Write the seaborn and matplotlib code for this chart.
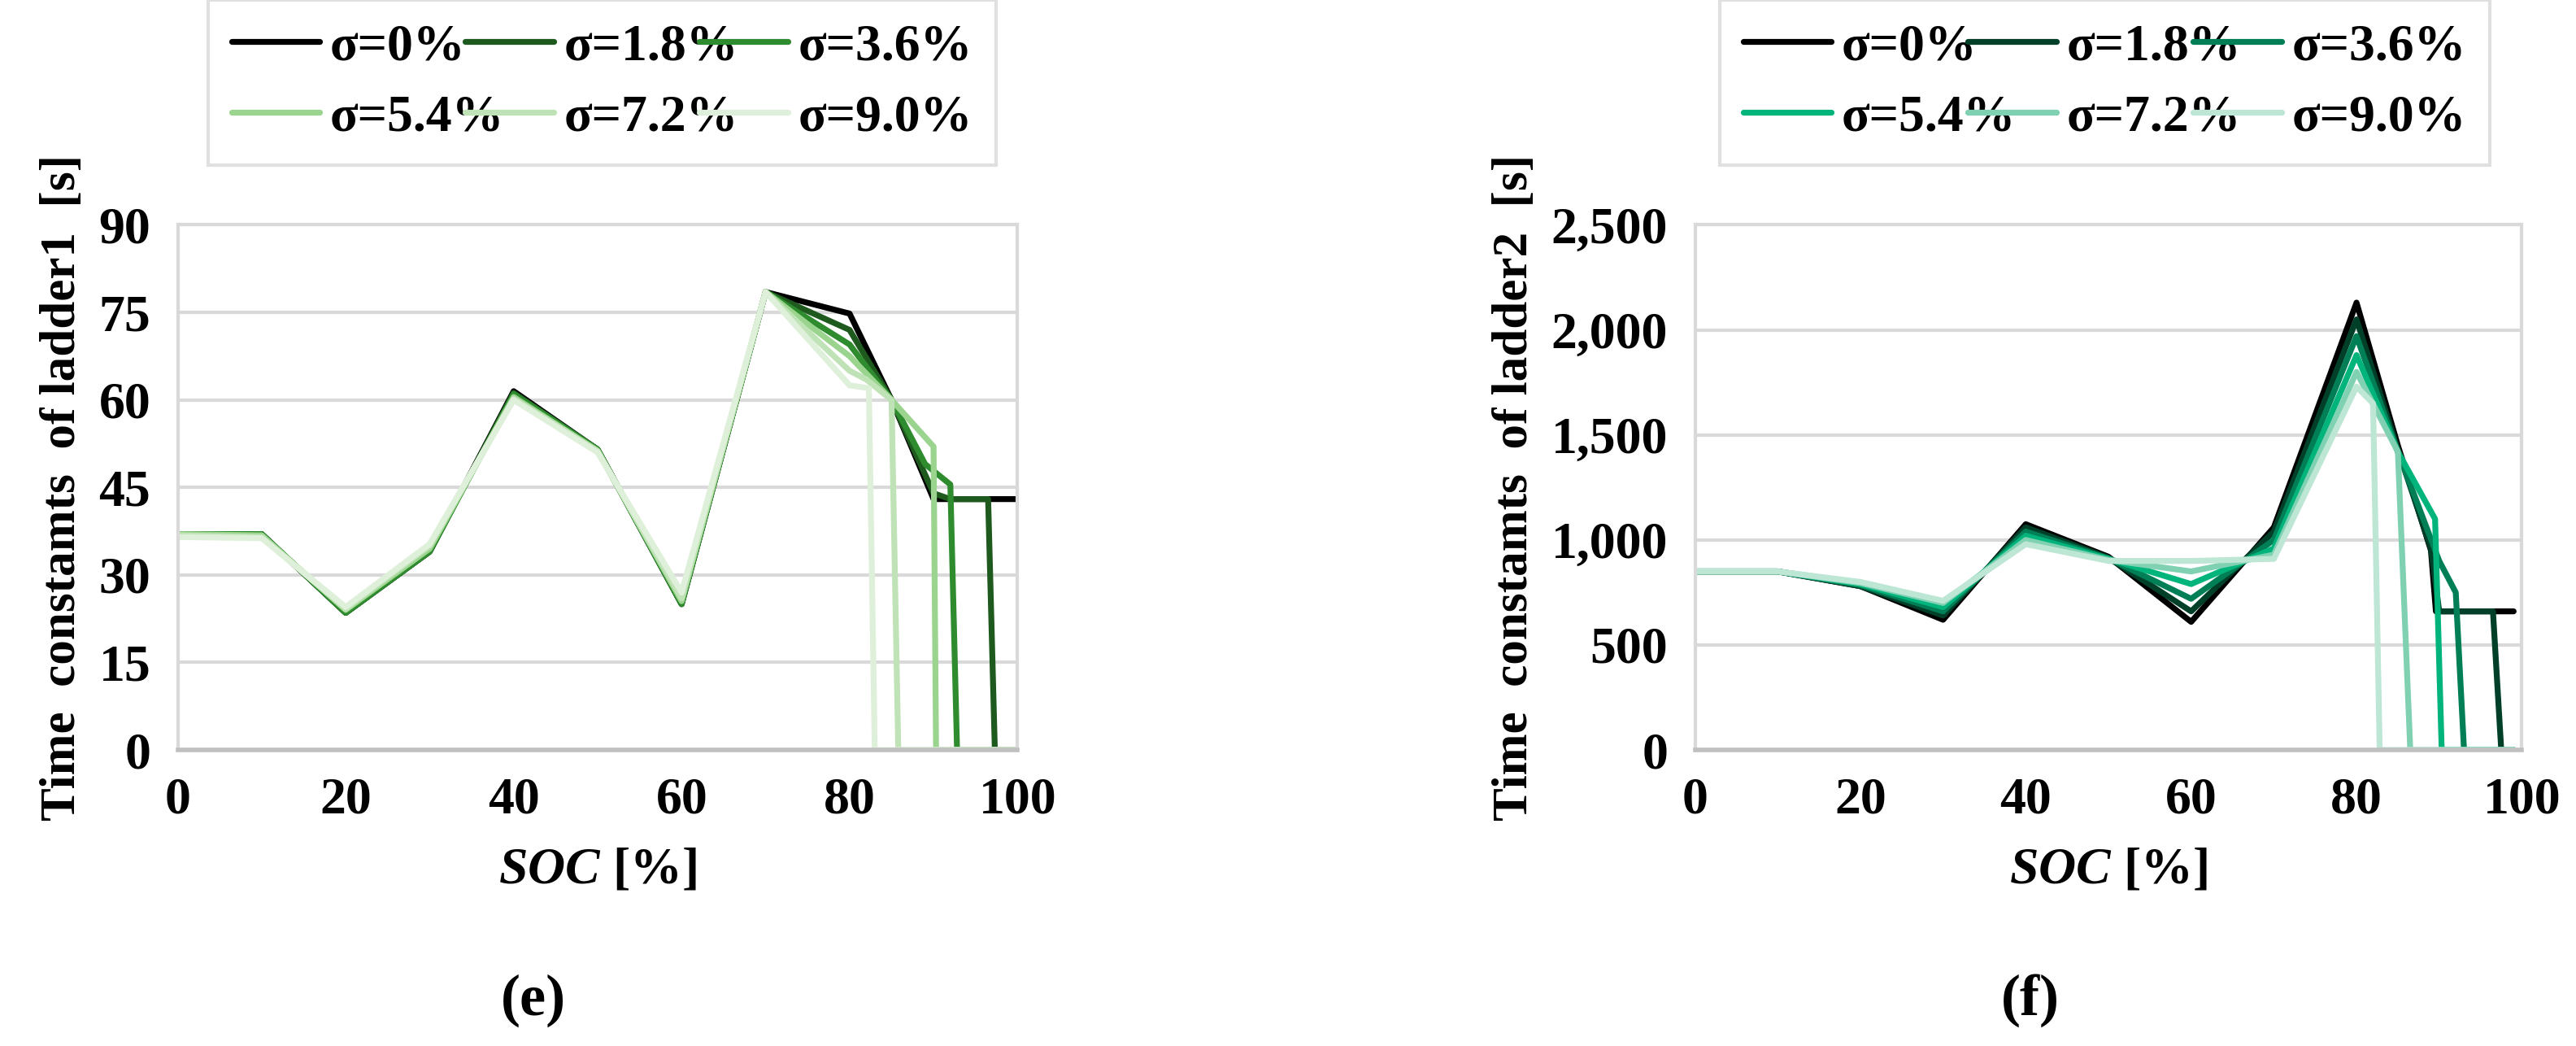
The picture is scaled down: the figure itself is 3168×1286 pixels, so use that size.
import matplotlib
matplotlib.use('Agg')
import matplotlib.pyplot as plt
import seaborn as sns
import pandas as pd

sns.set_style('white')
plt.rcParams['font.family'] = ['Liberation Serif', 'DejaVu Serif']
plt.rcParams['font.weight'] = 'bold'
plt.rcParams['mathtext.fontset'] = 'custom'
plt.rcParams['mathtext.it'] = 'Liberation Serif:italic:bold'
plt.rcParams['mathtext.rm'] = 'Liberation Serif:bold'
plt.rcParams['text.color'] = 'black'
plt.rcParams['axes.labelcolor'] = 'black'
plt.rcParams['xtick.color'] = 'black'
plt.rcParams['ytick.color'] = 'black'

labels = ['σ=0%', 'σ=1.8%', 'σ=3.6%', 'σ=5.4%', 'σ=7.2%', 'σ=9.0%']
greens = ['#000000', '#1e5a1e', '#2e8b2e', '#9ad48e', '#bfe3b6', '#dff0da']
teals = ['#000000', '#004028', '#007f57', '#00b47c', '#7fd1b2', '#bde6d5']

base_x = [0, 10, 20, 30, 40, 50, 60, 70]

# panel (e): ladder1
e_x = [
    base_x + [80, 85, 90, 100],
    base_x + [80, 85, 90, 92, 96.5, 97.3, 100],
    base_x + [80, 85, 89, 92, 92.8, 100],
    base_x + [80, 85, 90, 90.3, 100],
    base_x + [80, 82, 85, 85.8, 100],
    base_x + [80, 82.3, 83, 100],
]
e_y = [
    [37, 37, 23.5, 34, 61.5, 51.5, 25, 78.5, 74.8, 60, 43, 43],
    [37, 37, 23.5, 34, 61.2, 51.5, 25, 78.5, 72, 60, 44, 43, 43, 0, 0],
    [37, 37, 23.5, 34, 61, 51.5, 25, 78.5, 69.5, 60, 49, 45.5, 0, 0],
    [37, 36.8, 24, 34.5, 60.5, 51.3, 25.5, 78.5, 67.5, 60, 52, 0, 0],
    [36.8, 36.5, 24.2, 35, 60.2, 51.2, 26, 78.5, 65, 63.5, 60, 0, 0],
    [36.5, 36.3, 24.5, 35.3, 60, 51, 27, 78.5, 62.5, 62, 0, 0],
]

# panel (f): ladder2
f_x = [
    base_x + [80, 85, 89, 89.6, 99],
    base_x + [80, 85, 89, 90, 96.5, 97.5, 99],
    base_x + [80, 85, 90, 92, 93, 99],
    base_x + [80, 85, 89.5, 90.3, 99],
    base_x + [80, 85, 86.5, 99],
    base_x + [80, 82, 82.8, 99],
]
f_y = [
    [850, 850, 780, 620, 1075, 920, 610, 1060, 2130, 1450, 950, 660, 660],
    [850, 850, 780, 640, 1060, 915, 660, 1040, 2050, 1430, 960, 660, 660, 0, 0],
    [850, 850, 785, 660, 1040, 912, 720, 1000, 1970, 1420, 900, 750, 0, 0],
    [850, 850, 790, 680, 1020, 910, 790, 960, 1880, 1420, 1100, 0, 0],
    [850, 850, 795, 700, 1000, 905, 850, 930, 1800, 1420, 0, 0],
    [850, 850, 800, 710, 980, 900, 900, 910, 1730, 1650, 0, 0],
]

fig = plt.figure(figsize=(15.84, 6.43), dpi=200)
ax1 = fig.add_axes([0.069, 0.283, 0.326, 0.502])
ax2 = fig.add_axes([0.658, 0.283, 0.321, 0.502])


def draw(ax, xs, ys, colors, yticks, ylabel, fmt):
    for i, lab in enumerate(labels):
        df = pd.DataFrame({'SOC': xs[i], 'val': ys[i]})
        sns.lineplot(data=df, x='SOC', y='val', sort=False, ax=ax, color=colors[i],
                     lw=2.6, label=lab, legend=False)
    ax.set_xlim(0, 100)
    ax.set_ylim(yticks[0], yticks[-1])
    ax.set_xticks([0, 20, 40, 60, 80, 100])
    ax.set_yticks(yticks)
    ax.set_yticklabels([fmt.format(v) for v in yticks])
    ax.yaxis.grid(True, color='#d9d9d9', lw=1.5)
    ax.set_axisbelow(True)
    for s in ['left', 'right', 'top']:
        ax.spines[s].set_color('#d9d9d9')
        ax.spines[s].set_linewidth(1.5)
    ax.spines['bottom'].set_color('#bfbfbf')
    ax.spines['bottom'].set_linewidth(2)
    ax.tick_params(axis='both', labelsize=23, length=0, pad=12)
    ax.set_xlabel(r'$SOC$ [%]', fontsize=23, fontweight='bold', labelpad=10)
    ax.set_ylabel(ylabel, fontsize=22, fontweight='bold', labelpad=6)
    h, l = ax.get_legend_handles_labels()
    return h, l


h1, l1 = draw(ax1, e_x, e_y, greens, [0, 15, 30, 45, 60, 75, 90],
              'Time  constamts  of ladder1  [s]', '{:d}')
h2, l2 = draw(ax2, f_x, f_y, teals, [0, 500, 1000, 1500, 2000, 2500],
              'Time  constamts  of ladder2  [s]', '{:,d}')

order = [0, 3, 1, 4, 2, 5]  # legend fills column-wise; reference reads row-wise
for h, l, x0, w in [(h1, l1, 0.0707, 0.326), (h2, l2, 0.6575, 0.319)]:
    leg = fig.legend([h[k] for k in order], [l[k] for k in order], ncol=3,
                     loc='lower left', bbox_to_anchor=(x0, 0.817, w, 0.15),
                     mode='expand', fontsize=23, frameon=True, fancybox=False,
                     edgecolor='#d9d9d9', handlelength=1.7, columnspacing=0.6,
                     borderpad=0.45, labelspacing=0.45, handletextpad=0.2)
    leg.get_frame().set_linewidth(1.5)

fig.text(0.207, 0.03, '(e)', fontsize=26, ha='center')
fig.text(0.788, 0.03, '(f)', fontsize=26, ha='center')

fig.savefig('out.png', dpi=200)
